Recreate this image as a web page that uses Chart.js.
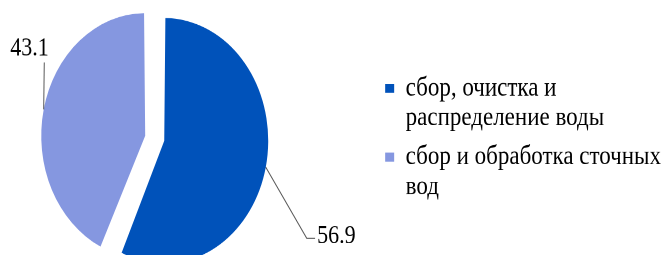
<!DOCTYPE html>
<html><head><meta charset="utf-8">
<script src="https://cdn.jsdelivr.net/npm/chart.js@4.4.0/dist/chart.umd.min.js"></script>
<style>
html,body{margin:0;padding:0;background:#fff;}
#wrap{width:665px;height:255px;overflow:hidden;position:relative;}
#c{position:absolute;left:-63px;top:0;width:734px;height:240px;transform-origin:0 0;transform:scaleY(1.1806);}
#warm{position:absolute;left:-9999px;top:0;font:23px "Liberation Serif";}
</style></head><body>
<div id="wrap"><canvas id="c" width="734" height="240"></canvas></div>
<span id="warm">сбор 56.9</span>
<script>
// ---- data ----
const categories = ['сбор, очистка и\nраспределение воды', 'сбор и обработка сточных\nвод'];
const values = [56.9, 43.1];
const valueLabels = ['56.9', '43.1'];
const sliceColors = ['#0052BA', '#8597E0'];

const FAMILY = '"Liberation Serif", serif';

// ---- label leader geometry (relative to slice edge at mid-angle) ----
const LEADERS = [
  {dx: 41, dy: 60.3, hx: 8.3, tx: 2, ty: 4, align: 'left'},
  {dx: 0.6, dy: -39.8, hx: 0, tx: 4.5, ty: -5.9, align: 'right'}
];

const leaderPlugin = {
  id: 'leaders',
  afterDatasetsDraw(chart) {
    const ctx = chart.ctx;
    const meta = chart.getDatasetMeta(0);
    ctx.save();
    meta.data.forEach((arc, i) => {
      const p = arc.getProps(['x', 'y', 'startAngle', 'endAngle', 'outerRadius', 'circumference'], true);
      const off = (arc.options.offset || 0) / 4;
      const mid = (p.startAngle + p.endAngle) / 2;
      const fix = 1 - Math.sin(Math.min(Math.PI, p.circumference));
      const r = p.outerRadius + off * fix;
      const cx = p.x + Math.cos(mid) * off, cy = p.y + Math.sin(mid) * off;
      const sx = cx + Math.cos(mid) * r, sy = cy + Math.sin(mid) * r;
      const L = LEADERS[i];
      const ex = sx + L.dx, ey = sy + L.dy;
      ctx.strokeStyle = '#595959';
      ctx.lineWidth = 1;
      ctx.beginPath();
      ctx.moveTo(sx, sy);
      ctx.lineTo(ex, ey);
      if (L.hx) ctx.lineTo(ex + L.hx, ey);
      ctx.stroke();
      ctx.fillStyle = '#000';
      ctx.font = '22px ' + FAMILY;
      ctx.textAlign = L.align;
      ctx.textBaseline = 'alphabetic';
      ctx.fillText(valueLabels[i], ex + L.hx + L.tx, ey + L.ty);
    });
    ctx.restore();
  }
};

function build() {
  Chart.defaults.font.family = FAMILY;
  new Chart(document.getElementById('c'), {
    type: 'pie',
    data: {
      labels: categories,
      datasets: [{
        data: values,
        backgroundColor: sliceColors,
        borderWidth: 0,
        offset: [28.7, 49.3],
        radius: 96.8
      }]
    },
    options: {
      responsive: false,
      animation: false,
      devicePixelRatio: 2,
      layout: {padding: {left: 0, right: 0, top: 0, bottom: 4.6}},
      plugins: {
        tooltip: {enabled: false},
        legend: {
          position: 'right',
          align: 'center',
          labels: {
            boxWidth: 9,
            boxHeight: 7.6,
            padding: 7.7,
            color: '#000',
            font: {family: FAMILY, size: 23, lineHeight: 1.1},
            generateLabels(chart) {
              const ds = chart.data.datasets[0];
              return chart.data.labels.map((t, i) => ({
                text: t.split('\n'),
                fillStyle: ds.backgroundColor[i],
                strokeStyle: ds.backgroundColor[i],
                lineWidth: 0,
                hidden: false,
                index: i
              }));
            }
          }
        }
      }
    },
    plugins: [leaderPlugin]
  });
}
void document.getElementById('warm').offsetWidth;
if (document.fonts && document.fonts.ready) {
  document.fonts.ready.then(build, build);
} else build();
</script>
</body></html>
